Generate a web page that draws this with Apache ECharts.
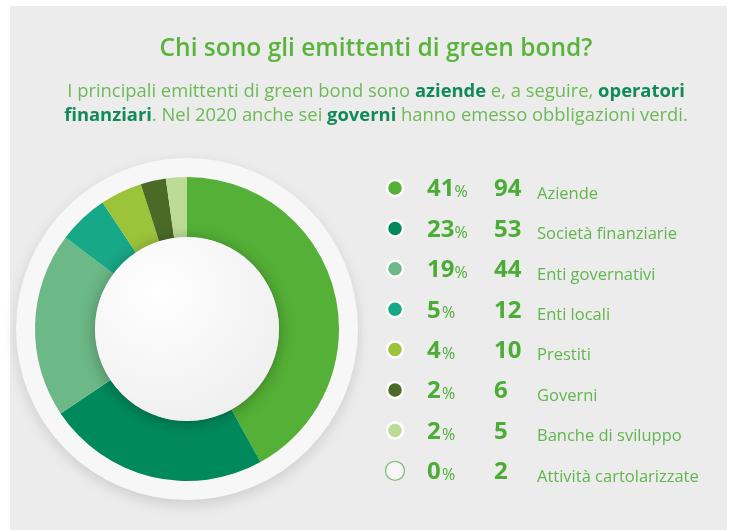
<!DOCTYPE html>
<html>
<head>
<meta charset="utf-8">
<script src="https://cdn.jsdelivr.net/npm/echarts@6/dist/echarts.min.js"></script>
<style>
html,body{margin:0;padding:0;background:#ffffff;}
#chart{width:732px;height:530px;}
</style>
</head>
<body>
<div id="chart"></div>
<script>
// ---- data ----
var categories = ['Aziende', 'Società finanziarie', 'Enti governativi', 'Enti locali', 'Prestiti', 'Governi', 'Banche di sviluppo', 'Attività cartolarizzate'];
var counts = [94, 53, 44, 12, 10, 6, 5, 2];
var percents = [41, 23, 19, 5, 4, 2, 2, 0];
var palette = ['#54b036', '#008a5b', '#6cb886', '#17a887', '#9bc43b', '#4b6a26', '#bcdc96', '#ffffff'];

var titleText = 'Chi sono gli emittenti di green bond?';
var subtitleParts = [
  [['n', 'I principali emittenti di green bond sono '], ['b', 'aziende'], ['n', ' e, a seguire, '], ['b', 'operatori']],
  [['b', 'finanziari'], ['n', '. Nel 2020 anche sei '], ['b', 'governi'], ['n', ' hanno emesso obbligazioni verdi.']]
];

// ---- build ----
var FONT = '"Open Sans", "Noto Sans", sans-serif';
var CX = 187, CY = 329, R_OUT = 152, R_IN = 92, R_HALO = 171;
var TX = 376;

var subtitleText = subtitleParts.map(function (line) {
  return line.map(function (p) { return '{' + p[0] + '|' + p[1] + '}'; }).join('');
}).join('\n');

var pieData = [];
categories.forEach(function (c, i) {
  if (percents[i] > 0) {
    pieData.push({ name: c, value: counts[i], itemStyle: { color: palette[i] } });
  }
});

var graphics = [
  { type: 'rect', shape: { x: 10, y: 6, width: 717, height: 524 }, style: { fill: '#ececec' }, z: -10, silent: true },
  { type: 'text', x: TX, y: 49, z: 50, silent: true,
    style: { text: titleText, font: '600 24.5px ' + FONT, fill: '#5ab43c', align: 'center', verticalAlign: 'middle' } },
  { type: 'text', x: TX, y: 104, z: 50, silent: true,
    style: {
      text: subtitleText, align: 'center', verticalAlign: 'middle',
      font: '18.4px ' + FONT, lineHeight: 24,
      rich: {
        n: { font: 'normal 18.4px ' + FONT, fill: '#6cba56', lineHeight: 24 },
        b: { font: 'bold 18.4px ' + FONT, fill: '#108a5a', lineHeight: 24 }
      }
    } },
  { type: 'circle', shape: { cx: CX, cy: CY, r: R_HALO }, z: -5, silent: true,
    style: { fill: '#f7f7f7', shadowBlur: 14, shadowColor: 'rgba(0,0,0,0.13)', shadowOffsetY: 5 } },
  { type: 'circle', shape: { cx: CX, cy: CY, r: R_IN }, z: 100, silent: true,
    style: {
      fill: new echarts.graphic.RadialGradient(0.35, 0.3, 0.9, [
        { offset: 0, color: '#ffffff' }, { offset: 1, color: '#ececec' }
      ]),
      shadowBlur: 16, shadowColor: 'rgba(0,0,0,0.30)', shadowOffsetY: 2
    } }
];

var ROW0 = 198, ROW_STEP = 40.4;
var numColor = '#4cad36', labColor = '#62b64d';
categories.forEach(function (c, i) {
  var base = ROW0 + i * ROW_STEP;
  var hollow = percents[i] === 0;
  graphics.push({
    type: 'circle', shape: { cx: 395, cy: base - 10, r: hollow ? 9.5 : 8 }, z: 50, silent: true,
    style: hollow ? { fill: '#f6f6f6', stroke: '#86c077', lineWidth: 1.3 }
                  : { fill: palette[i], stroke: '#ffffff', lineWidth: 2.5 }
  });
  graphics.push({
    type: 'text', x: 427, y: base + 3.6, z: 50, silent: true,
    style: { text: String(percents[i]), font: 'bold 24px ' + FONT, fill: numColor, verticalAlign: 'bottom', align: 'left' }
  });
  graphics.push({
    type: 'text', x: 427 + (String(percents[i]).length === 2 ? 27.5 : 15), y: base + 2.6, z: 50, silent: true,
    style: { text: '%', font: '16px ' + FONT, fill: numColor, verticalAlign: 'bottom', align: 'left' }
  });
  graphics.push({
    type: 'text', x: 494, y: base + 3.6, z: 50, silent: true,
    style: { text: String(counts[i]), font: 'bold 24px ' + FONT, fill: numColor, verticalAlign: 'bottom', align: 'left' }
  });
  graphics.push({
    type: 'text', x: 537, y: base + 4.6, z: 50, silent: true,
    style: { text: categories[i], font: '16.5px ' + FONT, fill: labColor, verticalAlign: 'bottom', align: 'left' }
  });
});

var chart = echarts.init(document.getElementById('chart'), null, { renderer: 'canvas' });
chart.setOption({
  backgroundColor: '#ffffff',
  animation: false,
  graphic: graphics,
  series: [{
    type: 'pie',
    center: [CX, CY],
    radius: [R_IN, R_OUT],
    startAngle: 90,
    clockwise: true,
    silent: true,
    label: { show: false },
    labelLine: { show: false },
    itemStyle: { borderWidth: 0 },
    z: 2,
    data: pieData
  }]
});
</script>
</body>
</html>
